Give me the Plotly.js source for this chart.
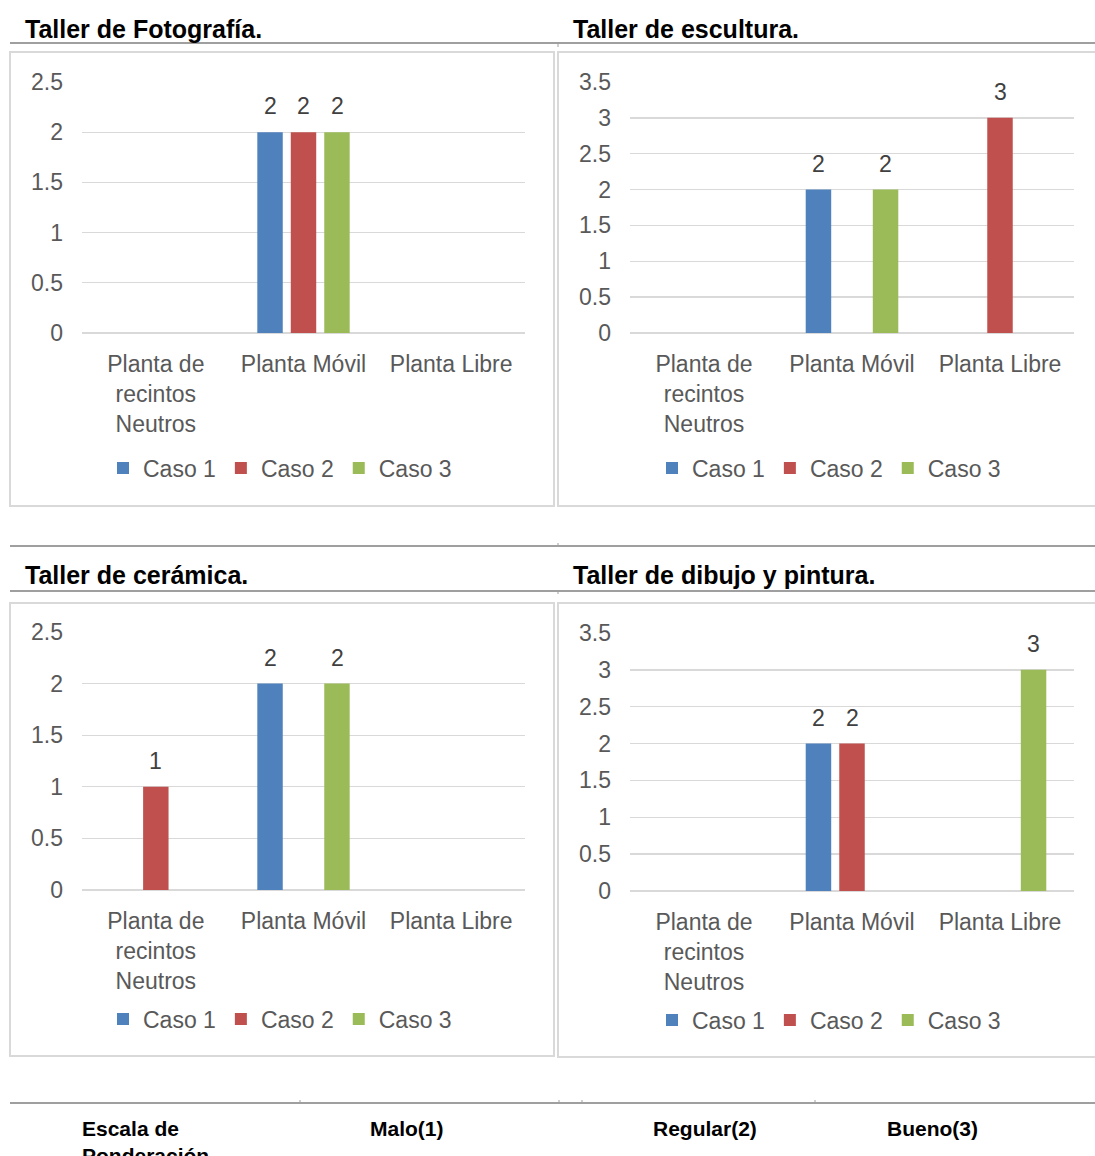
<!DOCTYPE html>
<html>
<head>
<meta charset="utf-8">
<script src="https://cdn.plot.ly/plotly-3.0.1.min.js"></script>
<style>
  html, body { margin: 0; padding: 0; background: #ffffff; }
  #chart { width: 1095px; height: 1156px; }
</style>
</head>
<body>
<div id="chart"></div>
<script>
// ---------- DATA ----------
const categories = ['Planta de<br>recintos<br>Neutros', 'Planta Móvil', 'Planta Libre'];
const seriesNames = ['Caso 1', 'Caso 2', 'Caso 3'];

const panelTitles = ['Taller de Fotografía.', 'Taller de escultura.', 'Taller de cerámica.', 'Taller de dibujo y pintura.'];

const fotografiaCaso1 = [null, 2, null];
const fotografiaCaso2 = [null, 2, null];
const fotografiaCaso3 = [null, 2, null];

const esculturaCaso1 = [null, 2, null];
const esculturaCaso2 = [null, null, 3];
const esculturaCaso3 = [null, 2, null];

const ceramicaCaso1 = [null, 2, null];
const ceramicaCaso2 = [1, null, null];
const ceramicaCaso3 = [null, 2, null];

const dibujoCaso1 = [null, 2, null];
const dibujoCaso2 = [null, 2, null];
const dibujoCaso3 = [null, null, 3];

const yMax = [2.5, 3.5, 2.5, 3.5];

const tableLabels = ['Escala de<br>Ponderación', 'Malo(1)', 'Regular(2)', 'Bueno(3)'];

// ---------- STYLE ----------
const W = 1095, H = 1156;
const FONT = 'Liberation Sans, Arial, sans-serif';
const colors = ['#4F81BD', '#C0504D', '#9BBB59'];
const X = px => px / W;
const Y = py => 1 - py / H;
const SLOT = 33.5; // pixel pitch of grouped bars (for value labels)

const panels = [
  {series: [fotografiaCaso1, fotografiaCaso2, fotografiaCaso3], xd: [82, 525], yd: [333, 82], box: [10, 52, 554, 506], title: [23, 29], legend: [280, 468]},
  {series: [esculturaCaso1, esculturaCaso2, esculturaCaso3], xd: [630, 1074], yd: [333, 82], box: [558, 52, 1110, 506], title: [571, 29], legend: [829, 468]},
  {series: [ceramicaCaso1, ceramicaCaso2, ceramicaCaso3], xd: [82, 525], yd: [890, 632], box: [10, 603, 554, 1056], title: [23, 575], legend: [280, 1019]},
  {series: [dibujoCaso1, dibujoCaso2, dibujoCaso3], xd: [630, 1074], yd: [891, 633], box: [558, 603, 1110, 1057], title: [571, 575], legend: [829, 1020]}
];

const traces = [];
const layout = {
  width: W, height: H,
  margin: {l: 0, r: 0, t: 0, b: 0},
  paper_bgcolor: '#ffffff',
  plot_bgcolor: 'rgba(0,0,0,0)',
  font: {family: FONT, color: '#595959', size: 23},
  barmode: 'group',
  bargap: 0.32,
  bargroupgap: 0.24,
  shapes: [],
  annotations: []
};

panels.forEach((p, i) => {
  const n = i === 0 ? '' : String(i + 1);
  const legendKey = 'legend' + n;
  p.series.forEach((vals, s) => {
    traces.push({
      type: 'bar',
      x: categories,
      y: vals,
      name: seriesNames[s],
      marker: {color: colors[s]},
      xaxis: 'x' + n,
      yaxis: 'y' + n,
      legend: legendKey,
      cliponaxis: false,
      hoverinfo: 'skip'
    });
    // value labels above the bars
    vals.forEach((v, c) => {
      if (v === null) return;
      layout.annotations.push({
        xref: 'x' + n, yref: 'y' + n,
        x: categories[c], y: v,
        xanchor: 'center', yanchor: 'bottom',
        xshift: (s - 1) * SLOT, yshift: 11,
        text: String(v), showarrow: false,
        font: {family: FONT, size: 23, color: '#404040'}
      });
    });
  });
  layout['xaxis' + n] = {
    domain: [X(p.xd[0]), X(p.xd[1])],
    anchor: 'y' + n,
    type: 'category',
    showgrid: false, showline: false, zeroline: false,
    ticks: '',
    tickfont: {family: FONT, size: 23, color: '#595959'},
    ticklabelstandoff: 15,
    fixedrange: true
  };
  layout['yaxis' + n] = {
    domain: [Y(p.yd[0]), Y(p.yd[1])],
    anchor: 'x' + n,
    range: [0, yMax[i]],
    dtick: 0.5,
    showgrid: true, gridcolor: '#D9D9D9', gridwidth: 1.3,
    zeroline: true, zerolinecolor: '#D9D9D9', zerolinewidth: 1.3,
    showline: false, ticks: '',
    tickfont: {family: FONT, size: 23, color: '#595959'},
    ticklabelstandoff: 18,
    fixedrange: true
  };
  layout[legendKey] = {
    orientation: 'h',
    x: X(p.legend[0]), xanchor: 'center',
    y: Y(p.legend[1]), yanchor: 'middle',
    font: {family: FONT, size: 23, color: '#595959'},
    bgcolor: 'rgba(0,0,0,0)',
    itemclick: false, itemdoubleclick: false
  };
  // chart box
  layout.shapes.push({
    type: 'rect', xref: 'paper', yref: 'paper',
    x0: X(p.box[0]), x1: X(p.box[2]), y0: Y(p.box[3]), y1: Y(p.box[1]),
    line: {color: '#D9D9D9', width: 2}, fillcolor: 'rgba(0,0,0,0)', layer: 'below'
  });
  // panel title
  layout.annotations.push({
    xref: 'paper', yref: 'paper',
    x: X(p.title[0]), y: Y(p.title[1]), xanchor: 'left', yanchor: 'middle',
    text: '<b>' + panelTitles[i] + '</b>', showarrow: false,
    font: {family: FONT, size: 25, color: '#000000'}
  });
});

// header / separator lines
const hLines = [[10, 1095, 43], [10, 1095, 546], [10, 1095, 591], [10, 1095, 1103]];
hLines.forEach(l => layout.shapes.push({
  type: 'line', xref: 'paper', yref: 'paper',
  x0: X(l[0]), x1: X(l[1]), y0: Y(l[2]), y1: Y(l[2]),
  line: {color: '#7F7F7F', width: 1.5}
}));
const ticksMarks = [[558, 43, 47], [558, 543, 546], [558, 591, 594], [300, 1100, 1103], [559, 1100, 1103], [582, 1100, 1103], [815, 1100, 1103]];
ticksMarks.forEach(t => layout.shapes.push({
  type: 'line', xref: 'paper', yref: 'paper',
  x0: X(t[0]), x1: X(t[0]), y0: Y(t[1]), y1: Y(t[2]),
  line: {color: '#9F9F9F', width: 1}
}));

// table header texts
const tableX = [80, 368, 651, 885];
tableLabels.forEach((t, k) => layout.annotations.push({
  xref: 'paper', yref: 'paper',
  x: X(tableX[k]), y: Y(1115), xanchor: 'left', yanchor: 'top', align: 'left',
  text: '<b>' + t + '</b>', showarrow: false,
  font: {family: FONT, size: 21, color: '#000000'}
}));

Plotly.newPlot('chart', traces, layout, {displayModeBar: false, staticPlot: true});
</script>
</body>
</html>
